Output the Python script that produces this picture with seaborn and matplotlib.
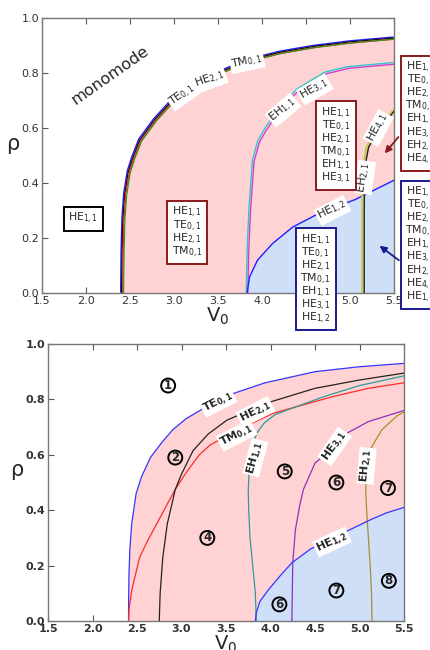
import matplotlib
matplotlib.use("Agg")
import matplotlib.pyplot as plt
import seaborn as sns
from matplotlib.transforms import offset_copy

# ---------------- data ----------------
# Top panel curves
top_main_V = [2.405, 2.41, 2.42, 2.44, 2.48, 2.53, 2.61, 2.78, 2.98, 3.2, 3.5, 3.83, 4.2, 4.6, 5.0, 5.5]
top_main_R = [0.0, 0.15, 0.27, 0.36, 0.44, 0.49, 0.556, 0.63, 0.70, 0.75, 0.80, 0.845, 0.875, 0.897, 0.913, 0.927]
top_eh11_V = [3.83, 3.84, 3.86, 3.9, 3.96, 4.03, 4.2, 4.41, 4.72, 4.98, 5.5]
top_eh11_R = [0.0, 0.15, 0.3, 0.48, 0.55, 0.59, 0.67, 0.74, 0.80, 0.82, 0.835]
top_he12_V = [3.83, 3.86, 3.95, 4.12, 4.35, 4.65, 5.06, 5.28, 5.5]
top_he12_R = [0.0, 0.06, 0.12, 0.18, 0.24, 0.29, 0.34, 0.375, 0.41]
top_eh21_V = [5.15, 5.15, 5.155, 5.17, 5.2, 5.31, 5.5]
top_eh21_R = [0.0, 0.3, 0.42, 0.48, 0.53, 0.59, 0.665]

# Bottom panel curves
te01_V = [2.405, 2.406, 2.41, 2.42, 2.44, 2.49, 2.55, 2.65, 2.78, 2.9, 3.05, 3.26, 3.57, 3.94, 4.5, 5.0, 5.5]
te01_R = [0.0, 0.08, 0.17, 0.26, 0.35, 0.46, 0.52, 0.59, 0.645, 0.69, 0.73, 0.77, 0.82, 0.86, 0.9, 0.918, 0.93]
tm01_V = [2.405, 2.41, 2.44, 2.53, 2.62, 2.72, 2.82, 2.93, 3.04, 3.2, 3.32, 3.6, 4.03, 4.7, 5.1, 5.5]
tm01_R = [0.0, 0.04, 0.11, 0.23, 0.29, 0.35, 0.41, 0.475, 0.53, 0.6, 0.635, 0.685, 0.75, 0.81, 0.84, 0.86]
he21_V = [2.75, 2.76, 2.79, 2.84, 2.93, 3.0, 3.13, 3.3, 3.51, 3.96, 4.5, 5.0, 5.5]
he21_R = [0.0, 0.1, 0.23, 0.35, 0.475, 0.53, 0.615, 0.675, 0.725, 0.787, 0.84, 0.87, 0.895]
eh11_V = [3.84, 3.83, 3.80, 3.77, 3.755, 3.75, 3.76, 3.79, 3.85, 3.93, 4.05, 4.3, 4.6, 5.0, 5.5]
eh11_R = [0.0, 0.1, 0.2, 0.3, 0.4, 0.47, 0.55, 0.63, 0.68, 0.715, 0.745, 0.775, 0.81, 0.85, 0.885]
he31_V = [4.24, 4.245, 4.25, 4.28, 4.33, 4.37, 4.5, 4.72, 4.87, 5.1, 5.5]
he31_R = [0.0, 0.1, 0.21, 0.33, 0.42, 0.475, 0.57, 0.63, 0.68, 0.72, 0.76]
eh21_V = [5.14, 5.135, 5.12, 5.1, 5.08, 5.07, 5.08, 5.1, 5.14, 5.25, 5.42, 5.5]
eh21_R = [0.0, 0.1, 0.2, 0.3, 0.4, 0.47, 0.55, 0.6, 0.63, 0.69, 0.74, 0.755]
he12_V = [3.83, 3.84, 3.88, 3.97, 4.1, 4.24, 4.45, 4.7, 5.12, 5.3, 5.5]
he12_R = [0.0, 0.03, 0.07, 0.11, 0.16, 0.21, 0.26, 0.3, 0.365, 0.39, 0.41]

x_ticks = [1.5, 2.0, 2.5, 3.0, 3.5, 4.0, 4.5, 5.0, 5.5]
y_ticks = [0.0, 0.2, 0.4, 0.6, 0.8, 1.0]

box_small = ["HE$_{1,1}$", "TE$_{0,1}$", "HE$_{2,1}$", "TM$_{0,1}$"]
box_mid = box_small + ["EH$_{1,1}$", "HE$_{3,1}$"]
box_blue1 = box_mid + ["HE$_{1,2}$"]
box_red2 = box_mid + ["EH$_{2,1}$", "HE$_{4,1}$"]
box_blue2 = box_red2 + ["HE$_{1,2}$"]

circ_labels = ["1", "2", "4", "5", "6", "7", "6", "7", "8"]
circ_V = [2.85, 2.93, 3.29, 4.16, 4.74, 5.32, 4.10, 4.74, 5.33]
circ_R = [0.85, 0.59, 0.30, 0.54, 0.50, 0.48, 0.06, 0.11, 0.145]

# ---------------- style ----------------
sns.set_style("ticks")
plt.rcParams["font.family"] = ["DejaVu Sans"]
plt.rcParams["mathtext.default"] = "regular"

PINK = "#ffd3d3"
LBLUE = "#cfdff8"
DRED = "#8b1a1a"
DBLUE = "#1a1a8b"

fig = plt.figure(figsize=(4.3, 6.5), dpi=100)
axT = fig.add_axes([42 / 430, 1 - 293 / 650, 352 / 430, 275 / 650])
axB = fig.add_axes([48 / 430, 1 - 621 / 650, 356 / 430, 277 / 650])


def curve(ax, V, R, color, lw=1.0, dx=0.0, dy=0.0, z=3):
    sns.lineplot(x=V, y=R, sort=False, estimator=None, color=color, lw=lw, ax=ax, zorder=z)
    line = ax.lines[-1]
    if dx or dy:
        line.set_transform(offset_copy(ax.transData, fig=fig, x=dx, y=dy, units="dots"))


def fill_under(ax, V, R, color):
    ax.fill(list(V) + [V[-1], V[0]], list(R) + [0.0, 0.0], color=color, lw=0, zorder=1)


def lab(ax, x, y, s, rot, fs=8, weight="normal"):
    ax.text(x, y, s, rotation=rot, fontsize=fs, ha="center", va="center", zorder=6,
            fontweight=weight, rotation_mode="anchor",
            bbox=dict(boxstyle="square,pad=0.12", fc="white", ec="none"))


def setup(ax, weight="normal"):
    ax.set_xlim(1.5, 5.5)
    ax.set_ylim(0.0, 1.0)
    ax.set_xticks(x_ticks)
    ax.set_yticks(y_ticks)
    ax.set_xticklabels([f"{v:.1f}" for v in x_ticks], fontweight=weight)
    ax.set_yticklabels([f"{v:.1f}" for v in y_ticks], fontweight=weight)
    ax.tick_params(direction="in", length=4, width=0.8, colors="#555555", labelsize=8,
                   labelcolor="#333333", top=True, right=True, pad=2)
    for s in ax.spines.values():
        s.set_color("#777777")
        s.set_linewidth(1.0)
    ax.set_ylabel(r"$\rho$", fontsize=15, rotation=0, labelpad=6)
    ax.set_xlabel(r"$V_0$", fontsize=14, labelpad=0)


# ---------------- top panel ----------------
fill_under(axT, top_main_V, top_main_R, PINK)
fill_under(axT, top_he12_V, top_he12_R, LBLUE)
curve(axT, top_main_V, top_main_R, "#2020ff", 1.0, dx=-1.0, dy=1.0)
curve(axT, top_main_V, top_main_R, "#111111", 1.0)
curve(axT, top_main_V, top_main_R, "#ff2020", 1.0, dx=1.0, dy=-1.0)
curve(axT, top_main_V, top_main_R, "#20a020", 0.8, dx=2.0, dy=-1.0)
curve(axT, top_eh11_V, top_eh11_R, "#30c8c8", 1.0, dx=-0.8, dy=0.8)
curve(axT, top_eh11_V, top_eh11_R, "#d040d0", 1.0, dx=0.8, dy=-0.8)
curve(axT, top_he12_V, top_he12_R, "#2020ff", 1.0)
curve(axT, top_eh21_V, top_eh21_R, "#cccc55", 1.6, dx=-1.0)
curve(axT, top_eh21_V, top_eh21_R, "#222222", 1.0, dx=1.0)
setup(axT)

lab(axT, 3.10, 0.72, "TE$_{0,1}$", 35)
lab(axT, 3.41, 0.775, "HE$_{2,1}$", 20)
lab(axT, 3.83, 0.84, "TM$_{0,1}$", 12)
lab(axT, 4.24, 0.665, "EH$_{1,1}$", 40)
lab(axT, 4.60, 0.74, "HE$_{3,1}$", 30)
lab(axT, 4.80, 0.30, "HE$_{1,2}$", 27)
lab(axT, 5.17, 0.42, "EH$_{2,1}$", 82)
lab(axT, 5.32, 0.60, "HE$_{4,1}$", 62)

axT.text(2.27, 0.79, "monomode", fontsize=11.5, rotation=35, ha="center", va="center")


def box(ax, x, y, items, ec, ha="center", va="center"):
    ax.text(x, y, "\n".join(items), fontsize=7.8, ha=ha, va=va, multialignment="center",
            linespacing=0.8, zorder=7, clip_on=False,
            bbox=dict(boxstyle="square,pad=0.4", fc="white", ec=ec, lw=1.4))


box(axT, 1.97, 0.27, ["HE$_{1,1}$"], "black")
box(axT, 3.15, 0.22, box_small, DRED)
box(axT, 4.84, 0.535, box_mid, DRED)
box(axT, 4.61, 0.05, box_blue1, DBLUE)
box(axT, 5.63, 0.653, box_red2, DRED, ha="left")
box(axT, 5.63, 0.175, box_blue2, DBLUE, ha="left")

axT.annotate("", xy=(5.375, 0.50), xytext=(5.57, 0.575), annotation_clip=False,
             arrowprops=dict(arrowstyle="-|>", color=DRED, lw=1.3, mutation_scale=10))
axT.annotate("", xy=(5.31, 0.178), xytext=(5.58, 0.113), annotation_clip=False,
             arrowprops=dict(arrowstyle="-|>", color=DBLUE, lw=1.3, mutation_scale=10))

# ---------------- bottom panel ----------------
fill_under(axB, te01_V, te01_R, PINK)
fill_under(axB, he12_V, he12_R, LBLUE)
curve(axB, te01_V, te01_R, "#3535ff", 0.9)
curve(axB, tm01_V, tm01_R, "#ff2a2a", 0.9)
curve(axB, he21_V, he21_R, "#222222", 0.9)
curve(axB, eh11_V, eh11_R, "#2f9a9a", 0.9)
curve(axB, he31_V, he31_R, "#9030c0", 0.9)
curve(axB, eh21_V, eh21_R, "#a09030", 0.9)
curve(axB, he12_V, he12_R, "#3535ff", 0.9)
setup(axB, weight="bold")

lab(axB, 3.41, 0.79, "TE$_{0,1}$", 27, weight="bold")
lab(axB, 3.83, 0.755, "HE$_{2,1}$", 27, weight="bold")
lab(axB, 3.62, 0.67, "TM$_{0,1}$", 27, weight="bold")
lab(axB, 3.83, 0.59, "EH$_{1,1}$", 75, weight="bold")
lab(axB, 4.72, 0.63, "HE$_{3,1}$", 55, weight="bold")
lab(axB, 5.08, 0.56, "EH$_{2,1}$", 85, weight="bold")
lab(axB, 4.69, 0.285, "HE$_{1,2}$", 25, weight="bold")

for s, v, r in zip(circ_labels, circ_V, circ_R):
    axB.text(v, r, s, fontsize=8.5, fontweight="bold", ha="center", va="center", zorder=6,
             bbox=dict(boxstyle="circle,pad=0.04", fc="none", ec="black", lw=1.4))

fig.savefig("out.png", dpi=100)
